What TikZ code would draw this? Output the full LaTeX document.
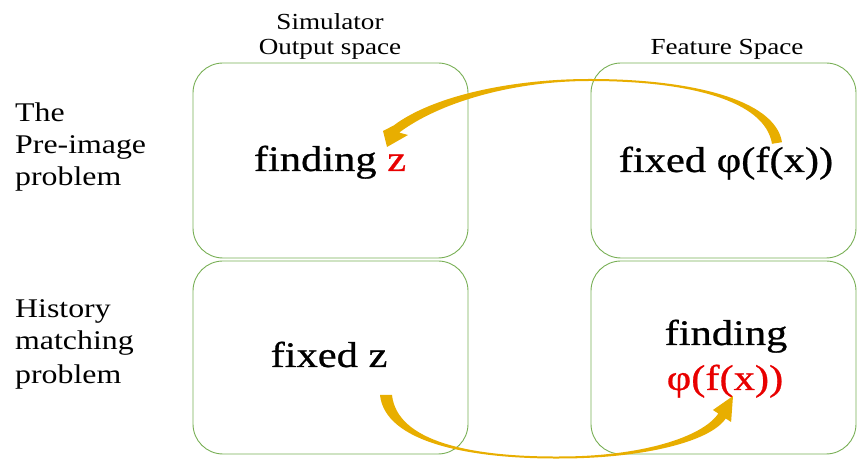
\documentclass[tikz,border=0pt]{standalone}
\usepackage{fontspec}
\setmainfont{Liberation Serif}[FakeStretch=1.18]
\newfontfamily\bigfont{Liberation Serif}[FakeStretch=1.18, FakeBold=0.7]
\definecolor{boxgreen}{RGB}{120,175,85}
\definecolor{arrowgold}{RGB}{232,174,0}
\definecolor{textred}{RGB}{232,0,0}
\begin{document}
\begin{tikzpicture}[x=1pt,y=1pt,
  spacebox/.style={draw=boxgreen, line width=0.9pt, rounded corners=30pt, inner sep=0pt},
  big/.style={font=\bigfont\fontsize{36}{40}\selectfont, inner sep=0pt, anchor=base},
  head/.style={font=\fontsize{23}{25}\selectfont, inner sep=0pt, anchor=base},
  side/.style={font=\fontsize{27}{30}\selectfont, inner sep=0pt, anchor=base west},
  goldarrow/.style={fill=arrowgold, draw=none}]
\useasboundingbox (0,0) rectangle (857,460);
% boxes
\node[spacebox, minimum width=275pt, minimum height=195pt] (tl) at (330.5,299.5) {};
\node[spacebox, minimum width=265pt, minimum height=195pt] (tr) at (723.5,299.5) {};
\node[spacebox, minimum width=275pt, minimum height=193pt] (bl) at (330.5,102.5) {};
\node[spacebox, minimum width=265pt, minimum height=193pt] (br) at (723.5,102.5) {};
% headers
\node[head] (h1) at (330,430) {Simulator};
\node[head] (h2) at (330,405) {Output space};
\node[head] (h3) at (727,405) {Feature Space};
% side labels
\node[side] (s1) at (15,338) {The};
\node[side] (s2) at (15,306) {Pre-image};
\node[side] (s3) at (15,274) {problem};
\node[side] (s4) at (15,142) {History};
\node[side] (s5) at (15,110) {matching};
\node[side] (s6) at (15,76) {problem};
% box texts
\node[big] (fz) at (330,289) {finding \textcolor{textred}{z}};
\node[big] (ff) at (726,288) {fixed φ(f(x))};
\node[big] (xz) at (329,93) {fixed z};
\node[big] (fd) at (726,115) {finding};
\node[big, text=textred] (fp) at (725,70) {φ(f(x))};
% top arrow (tapered, from feature space to output space)
\fill[goldarrow] (782,317.8) .. controls (775,360.8) and (690,381) .. (590,381)
  .. controls (510,381) and (432.3,363.6) .. (393.8,334.6)
  -- (383,329) -- (387,313) -- (408,325) -- (399.2,327.4)
  .. controls (437.7,356.4) and (510,379) .. (590,379)
  .. controls (690,379) and (765,359.2) .. (772,316.2) -- cycle;
% bottom arrow (tapered, from output space to feature space)
\fill[goldarrow] (380,65) .. controls (385,17.4) and (470,1) .. (560,1.5)
  .. controls (640,1.5) and (709.7,17.5) .. (725.7,41.5)
  -- (731.1,38) -- (733,64) -- (712.9,50) -- (718.3,46.5)
  .. controls (702.3,22.5) and (640,3.5) .. (560,3.5)
  .. controls (470,3) and (397,18.6) .. (392,65) -- cycle;
\end{tikzpicture}
\end{document}
